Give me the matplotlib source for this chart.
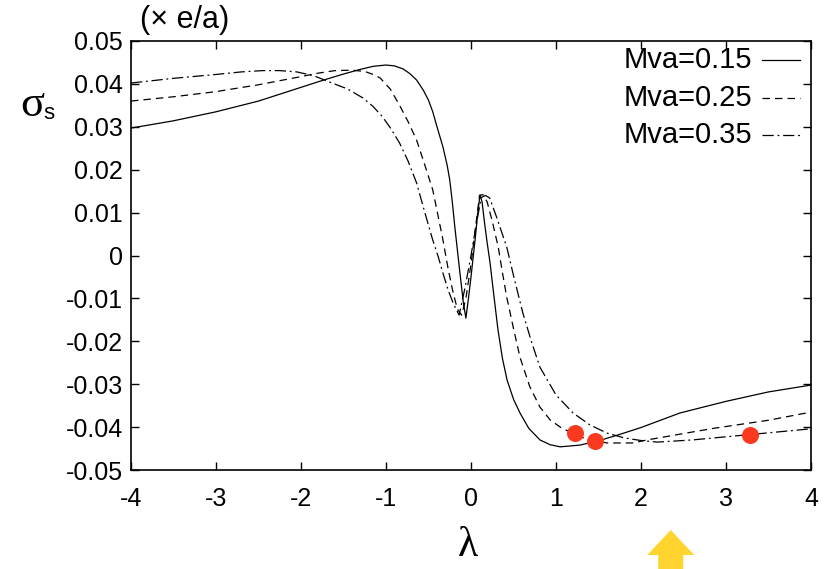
import matplotlib
matplotlib.use("Agg")
import matplotlib.pyplot as plt
from matplotlib.lines import Line2D
from matplotlib.patches import Polygon
from matplotlib.transforms import blended_transform_factory

# spin polarization sigma_s versus lambda for three Mva values
lam_015 = [-4.0, -3.5, -3.0, -2.5, -2.0, -1.75, -1.5, -1.3, -1.15, -1.0, -0.9, -0.8, -0.72,
           -0.64, -0.56, -0.5, -0.45, -0.4, -0.33, -0.28, -0.25, -0.22, -0.19, -0.13, -0.09,
           -0.06, -0.03, 0.0, 0.05, 0.08, 0.106, 0.13, 0.16, 0.19, 0.224, 0.27, 0.318, 0.37,
           0.424, 0.5, 0.576, 0.68, 0.812, 0.93, 1.05, 1.28, 1.5, 1.75, 2.0, 2.46, 3.0, 3.5,
           4.0]
sig_015 = [0.0297, 0.0314, 0.0335, 0.0360, 0.0392, 0.0408, 0.0423, 0.0434, 0.0441, 0.0444,
           0.0442, 0.0435, 0.0424, 0.0409, 0.0385, 0.0362, 0.0335, 0.0300, 0.0253, 0.0210,
           0.0176, 0.0125, 0.0066, -0.0041, -0.0110, -0.0146, -0.0100, -0.0050, 0.0040,
           0.0100, 0.0141, 0.0125, 0.0075, 0.0030, -0.0017, -0.0095, -0.0174, -0.0240,
           -0.0290, -0.0335, -0.0367, -0.0403, -0.0430, -0.0441, -0.0446, -0.0442, -0.0432,
           -0.0417, -0.0401, -0.0367, -0.0340, -0.0318, -0.0302]

lam_025 = [-4.0, -3.5, -3.0, -2.5, -2.0, -1.8, -1.6, -1.4, -1.25, -1.15, -1.07, -0.95, -0.84,
           -0.74, -0.64, -0.55, -0.45, -0.39, -0.33, -0.27, -0.21, -0.16, -0.11, -0.06, 0.0,
           0.05, 0.1, 0.14, 0.19, 0.25, 0.32, 0.37, 0.42, 0.5, 0.576, 0.69, 0.81, 0.93, 1.05,
           1.28, 1.6, 1.9, 2.07, 2.5, 2.85, 3.5, 4.0]
sig_025 = [0.0360, 0.0370, 0.0382, 0.0398, 0.0417, 0.0425, 0.0431, 0.0432, 0.0429, 0.0422,
           0.0414, 0.0388, 0.0350, 0.0312, 0.0269, 0.0215, 0.0153, 0.0095, 0.0036, -0.0030,
           -0.0087, -0.0125, -0.0139, -0.0100, -0.0020, 0.0060, 0.0140, 0.0142, 0.0125,
           0.0080, 0.0020, -0.0040, -0.0097, -0.0170, -0.0237, -0.0305, -0.0353, -0.0383,
           -0.0400, -0.0423, -0.0437, -0.0437, -0.0430, -0.0415, -0.0403, -0.0384, -0.0365]

lam_035 = [-4.0, -3.5, -3.0, -2.7, -2.45, -2.25, -2.05, -1.85, -1.66, -1.45, -1.27, -1.15,
           -1.04, -0.94, -0.84, -0.74, -0.64, -0.55, -0.45, -0.39, -0.33, -0.27, -0.21,
           -0.14, -0.07, 0.0, 0.06, 0.12, 0.17, 0.22, 0.3, 0.36, 0.42, 0.51, 0.61, 0.71, 0.81,
           1.0, 1.2, 1.4, 1.6, 1.8, 1.99, 2.19, 2.6, 3.25, 4.0]
sig_035 = [0.0402, 0.0413, 0.0422, 0.0428, 0.0431, 0.0431, 0.0428, 0.0419, 0.0404, 0.0388,
           0.0367, 0.0347, 0.0323, 0.0295, 0.0262, 0.0220, 0.0169, 0.0105, 0.0036, 0.0000,
           -0.0041, -0.0080, -0.0111, -0.0139, -0.0075, 0.0000, 0.0070, 0.0135, 0.0140,
           0.0134, 0.0090, 0.0055, 0.0020, -0.0055, -0.0134, -0.0200, -0.0260, -0.0325,
           -0.0367, -0.0395, -0.0414, -0.0425, -0.0431, -0.0435, -0.0430, -0.0418, -0.0404]

# highlighted points
dot_lam = [1.22, 1.46, 3.28]
dot_sig = [-0.0414, -0.0432, -0.0418]

series_labels = ["Mva=0.15", "Mva=0.25", "Mva=0.35"]
x_ticks = [-4, -3, -2, -1, 0, 1, 2, 3, 4]
y_ticks = [0.05, 0.04, 0.03, 0.02, 0.01, 0, -0.01, -0.02, -0.03, -0.04, -0.05]
y_tick_labels = ["0.05", "0.04", "0.03", "0.02", "0.01", "0", "-0.01", "-0.02",
                 "-0.03", "-0.04", "-0.05"]
arrow_lam = 2.35

plt.rcParams["font.family"] = ["Liberation Sans", "DejaVu Sans"]

W, H = 825, 569
fig = plt.figure(figsize=(W / 100, H / 100), dpi=100)
ax = fig.add_axes([131 / W, 1 - 470 / H, (811 - 131) / W, (470 - 41) / H])

lw = 0.9
styles = [(0, ()), (0, (6, 4)), (0, (9, 3, 1.5, 3))]
data = [(lam_015, sig_015), (lam_025, sig_025), (lam_035, sig_035)]
for (xs, ys), ls in zip(data, styles):
    ax.plot(xs, ys, color="black", lw=lw, linestyle=ls if ls[1] else "-")

ax.scatter(dot_lam, dot_sig, s=150, color="#fa3a1e", zorder=5, linewidths=0)

ax.set_xlim(-4, 4)
ax.set_ylim(-0.05, 0.05)
ax.set_xticks(x_ticks)
ax.set_xticklabels([str(t) for t in x_ticks])
ax.set_yticks(y_ticks)
ax.set_yticklabels(y_tick_labels)
ax.tick_params(direction="in", top=True, right=True, length=6, width=1,
               labelsize=18, pad=6)
ax.tick_params(axis="x", pad=12)
for sp in ax.spines.values():
    sp.set_linewidth(1.2)

# legend: right-aligned labels followed by a short line sample
row_y = [60, 98, 135]
for lab, ls, ry in zip(series_labels, styles, row_y):
    fig.text(752 / W, 1 - ry / H, lab, fontsize=21, ha="right", va="center")
    fig.add_artist(Line2D([762 / W, 800 / W], [1 - ry / H, 1 - ry / H], color="black",
                          lw=lw, linestyle=ls if ls[1] else "-",
                          transform=fig.transFigure))

# axis labels
fig.text(140 / W, 1 - 20 / H, "(× e/a)", fontsize=22, va="center", ha="left")
fig.text(20 / W, 1 - 116 / H, "σ", fontsize=32, family="Liberation Serif",
         va="baseline", ha="left")
fig.text(43 / W, 1 - 119 / H, "s", fontsize=16, va="baseline", ha="left")
fig.text(468 / W, 1 - 556 / H, "λ", fontsize=30, family="Liberation Serif",
         va="baseline", ha="center")

# yellow pointer arrow below the axis
tr = blended_transform_factory(ax.transData, fig.transFigure)
hw, sw = 0.276, 0.147
tip_y, base_y = 1 - 530 / H, 1 - 555 / H
arrow = Polygon([(arrow_lam, tip_y), (arrow_lam + hw, base_y), (arrow_lam + sw, base_y),
                 (arrow_lam + sw, 0), (arrow_lam - sw, 0), (arrow_lam - sw, base_y),
                 (arrow_lam - hw, base_y)], closed=True, transform=tr,
                facecolor="#ffd42e", edgecolor="none", clip_on=False)
fig.patches.append(arrow)

fig.savefig("out.png", dpi=100)
